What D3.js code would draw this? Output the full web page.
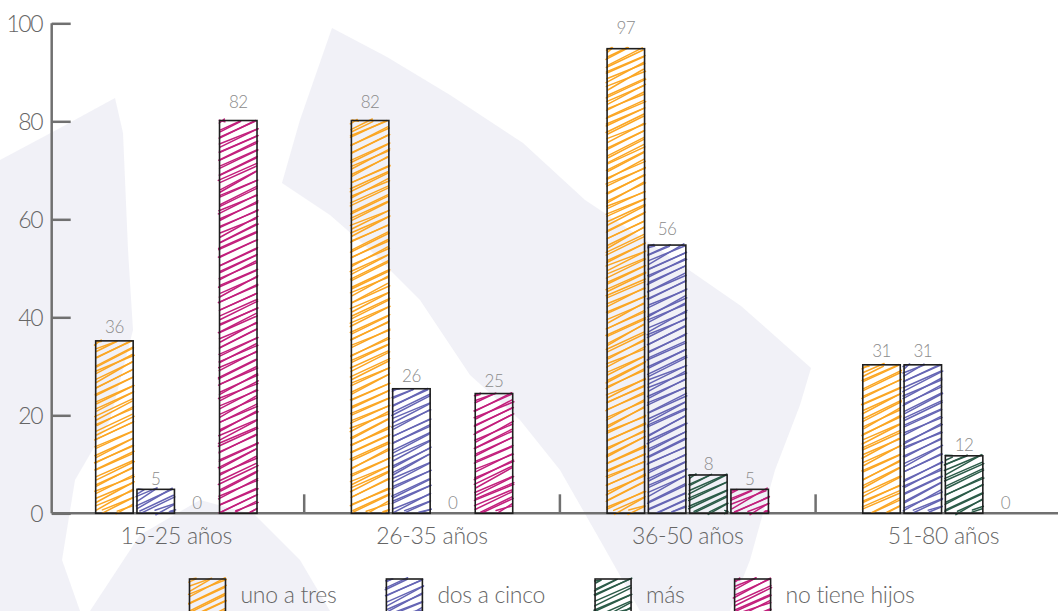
<!DOCTYPE html>
<html>
<head>
<meta charset="utf-8">
<script src="https://cdn.jsdelivr.net/npm/d3@7/dist/d3.min.js"></script>
<style>
  html, body { margin: 0; padding: 0; background: #ffffff; }
  svg { display: block; }
  text { font-family: "Lato", "Open Sans", sans-serif; font-weight: 300; }
</style>
</head>
<body>
<svg id="chart" width="1058" height="611"></svg>
<script>
// ---------- data ----------
const categories = ["15-25 años", "26-35 años", "36-50 años", "51-80 años"];
const seriesNames = ["uno a tres", "dos a cinco", "más", "no tiene hijos"];
const unoATres = [36, 82, 97, 31];
const dosACinco = [5, 26, 56, 31];
const mas = [0, 0, 8, 12];
const noTieneHijos = [82, 25, 5, 0];
const yTickValues = [0, 20, 40, 60, 80, 100];
const seriesColors = ["#fba623", "#6565b4", "#2b5b48", "#c21f7c"];

const seriesValues = [unoATres, dosACinco, mas, noTieneHijos];

// ---------- setup ----------
const W = 1058, H = 611;
const svg = d3.select("#chart");

// seeded pseudo random for sketchy strokes (decoration only)
let seed = 7;
function rnd() { seed = (seed * 16807) % 2147483647; return (seed - 1) / 2147483646; }
function jit(a) { return (rnd() - 0.5) * 2 * a; }

// ---------- background shapes ----------
const bgShapes = [
  [[332,28],[387,57],[450,95],[523,143],[585,200],[660,250],[741,306],[811,368],[800,405],[775,470],[750,560],[730,611],[640,611],[600,540],[560,470],[520,420],[470,375],[420,300],[370,250],[330,215],[282,183],[300,120]],
  [[0,160],[60,128],[115,98],[123,133],[128,250],[133,330],[110,420],[75,480],[62,560],[80,611],[0,611]],
  [[90,611],[140,535],[200,500],[255,515],[300,560],[330,611]]
];
const bg = svg.append("g");
bg.selectAll("path").data(bgShapes).join("path")
  .attr("d", d => d3.line().curve(d3.curveLinearClosed)(d))
  .attr("fill", "#e4e4ef").attr("opacity", 0.5);

// ---------- scales ----------
const x0 = d3.scaleBand().domain(categories).range([48.5, 1071.3]);
const x1 = d3.scaleBand().domain(seriesNames).range([0, x0.bandwidth()])
  .paddingInner(0.092).paddingOuter(1.143);
const yAxisScale = d3.scaleLinear().domain([0, 100]).range([513.3, 23.3]);
const yBar = d3.scaleLinear().domain([0, 102.3]).range([513.3, 23.3]);

const axisColor = "#707070";

// ---------- hachure helper (zigzag-like double strokes) ----------
function hachure(g, x, y, w, h, color) {
  const m = 0.5, gap = 7.5;
  const lines = [];
  for (let c = y + gap * 0.4; c < y + h + m * w; c += gap) {
    const xa = Math.max(x, x + (c - (y + h)) / m);
    const xb = Math.min(x + w, x + (c - y) / m);
    if (xb - xa < 2) continue;
    const ya = c - m * (xa - x), yb = c - m * (xb - x);
    lines.push([[xa + jit(1.2), ya + jit(1.5)], [xb + jit(1.2), yb + jit(1.5)]]);
    lines.push([[xa + jit(1.2), ya + jit(1.5) - 2], [xb + jit(1.2), yb + jit(1.5)]]);
  }
  g.selectAll(null).data(lines).join("path")
    .attr("d", d => d3.line()(d))
    .attr("stroke", color).attr("stroke-width", 1.5)
    .attr("stroke-linecap", "round").attr("fill", "none");
}

// ---------- axes ----------
const yAxisG = svg.append("g").attr("transform", "translate(51.7,0)")
  .call(d3.axisRight(yAxisScale).tickValues(yTickValues).tickSize(19).tickFormat(""));
yAxisG.select(".domain").attr("stroke", axisColor).attr("stroke-width", 2.5).attr("d", "M0,23.3V513.3");
yAxisG.selectAll(".tick line").attr("stroke", axisColor).attr("stroke-width", 2.5);

svg.append("g").selectAll("text").data(yTickValues).join("text")
  .attr("x", 42).attr("y", d => yAxisScale(d))
  .attr("dy", "0.36em").attr("text-anchor", "end")
  .attr("font-size", 23).attr("letter-spacing", "-1.5px")
  .attr("fill", "#666").text(d => d);

// x axis
const xAxisG = svg.append("g").attr("transform", `translate(0,${yAxisScale(0)})`);
xAxisG.append("line").attr("x1", 51.7).attr("x2", 1071).attr("y1", 0).attr("y2", 0)
  .attr("stroke", axisColor).attr("stroke-width", 2.5);
const boundaries = categories.slice(1).map(c => x0(c));
xAxisG.selectAll("line.tk").data(boundaries).join("line").attr("class", "tk")
  .attr("x1", d => d).attr("x2", d => d).attr("y1", 0).attr("y2", -19)
  .attr("stroke", axisColor).attr("stroke-width", 2.5);
xAxisG.selectAll("text").data(categories).join("text")
  .attr("x", d => x0(d) + x0.bandwidth() / 2).attr("y", 31)
  .attr("text-anchor", "middle").attr("font-size", 23).attr("letter-spacing", "-0.3px")
  .attr("fill", "#666").text(d => d);

// ---------- bars ----------
const barsG = svg.append("g");
categories.forEach((cat, ci) => {
  seriesNames.forEach((s, si) => {
    const v = seriesValues[si][ci];
    const bx = x0(cat) + x1(s), bw = x1.bandwidth();
    const g = barsG.append("g");
    if (v > 0) {
      const by = yBar(v), bh = yBar(0) - yBar(v);
      hachure(g, bx, by, bw, bh, seriesColors[si]);
      g.append("rect").attr("x", bx).attr("y", by).attr("width", bw).attr("height", bh)
        .attr("fill", "none").attr("stroke", "#1e1e1e").attr("stroke-width", 1.6);
    }
    g.append("text").attr("x", bx + bw / 2).attr("y", yAxisScale(v) - 4)
      .attr("text-anchor", "middle").attr("font-size", 17).attr("letter-spacing", "-0.5px")
      .attr("fill", "#8a8a8a").text(v);
  });
});

// ---------- legend ----------
const legend = svg.append("g");
const items = [];
let cx = 0;
seriesNames.forEach((s, i) => {
  const g = legend.append("g");
  const t = g.append("text").attr("x", 51).attr("y", 603)
    .attr("font-size", 23).attr("letter-spacing", "-0.3px").attr("fill", "#666").text(s);
  const tw = t.node().getComputedTextLength();
  items.push({ g, s, i, x: cx });
  cx += 51 + tw + 50;
});
const totalW = cx - 50;
const startX = 552 - totalW / 2;
items.forEach(it => {
  it.g.attr("transform", `translate(${startX + it.x},0)`);
  hachure(it.g, 0, 579, 36, 36, seriesColors[it.i]);
  it.g.append("rect").attr("x", 0).attr("y", 579).attr("width", 36).attr("height", 36)
    .attr("fill", "none").attr("stroke", "#1e1e1e").attr("stroke-width", 1.6);
});
</script>
</body>
</html>
